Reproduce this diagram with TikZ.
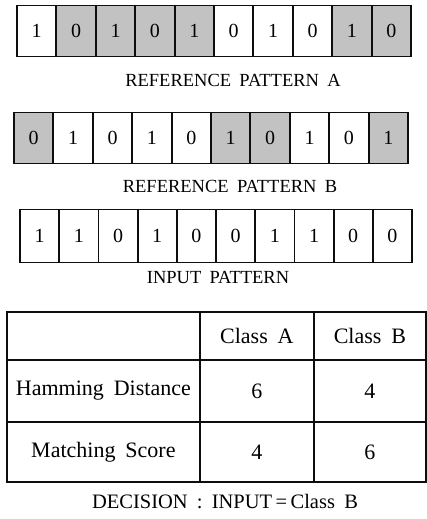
\documentclass[tikz,border=0pt]{standalone}
\usepackage{fontspec}
\setmainfont{Liberation Serif}
\definecolor{DotClr}{gray}{0.76}
\definecolor{LineClr}{gray}{0.05}

\tikzset{
  bit/.style={draw=LineClr,line width=1.8pt,minimum width=39.3pt,minimum height=51pt,
    inner sep=0pt,font=\fontsize{20}{22}\selectfont},
  shaded/.style={fill=DotClr},
  caption/.style={font=\fontsize{18.5}{21}\selectfont,
    execute at begin node={\spaceskip=0.45em\relax}},
  tab/.style={draw=LineClr,line width=1.8pt,inner sep=0pt,anchor=north west,
    font=\fontsize{22}{24}\selectfont,execute at begin node={\spaceskip=0.45em\relax}}
}

\begin{document}
\begin{tikzpicture}[x=1pt,y=-1pt]
\useasboundingbox (0,0) rectangle (426,519);

% reference pattern A
\foreach \v/\s [count=\i] in {1/0,0/1,1/1,0/1,1/1,0/0,1/0,0/0,1/1,0/1}{
  \ifnum\s=1
    \node[bit,shaded] (a\i) at ({17+39.4*(\i-0.5)},31) {\v};
  \else
    \node[bit] (a\i) at ({17+39.4*(\i-0.5)},31) {\v};
  \fi
}
\node[caption] (capA) at (233,80.5) {REFERENCE PATTERN A};

% reference pattern B
\foreach \v/\s [count=\i] in {0/1,1/0,0/0,1/0,0/0,1/1,0/1,1/0,0/0,1/1}{
  \ifnum\s=1
    \node[bit,shaded] (b\i) at ({14+39.4*(\i-0.5)},138) {\v};
  \else
    \node[bit] (b\i) at ({14+39.4*(\i-0.5)},138) {\v};
  \fi
}
\node[caption] (capB) at (230,186.5) {REFERENCE PATTERN B};

% input pattern
\foreach \v [count=\i] in {1,1,0,1,0,0,1,1,0,0}{
  \node[bit,minimum width=39.2pt,minimum height=53pt] (c\i) at ({20+39.2*(\i-0.5)},236) {\v};
}
\node[caption] (capC) at (218,277) {INPUT PATTERN};

% comparison table
\node[tab,minimum width=193pt,minimum height=48pt] (t11) at (6,311) {};
\node[tab,minimum width=114pt,minimum height=48pt] (t12) at (199,311) {Class A};
\node[tab,minimum width=112pt,minimum height=48pt] (t13) at (313,311) {Class B};
\node[tab,minimum width=193pt,minimum height=62pt] (t21) at (6,359) {Hamming Distance};
\node[tab,minimum width=114pt,minimum height=62pt] (t22) at (199,359) {6};
\node[tab,minimum width=112pt,minimum height=62pt] (t23) at (313,359) {4};
\node[tab,minimum width=193pt,minimum height=60pt] (t31) at (6,421) {Matching Score};
\node[tab,minimum width=114pt,minimum height=60pt] (t32) at (199,421) {4};
\node[tab,minimum width=112pt,minimum height=60pt] (t33) at (313,421) {6};

\node[caption,font=\fontsize{20.5}{23}\selectfont] (dec) at (225,502) {DECISION : INPUT\,=\,Class B};

\end{tikzpicture}
\end{document}
